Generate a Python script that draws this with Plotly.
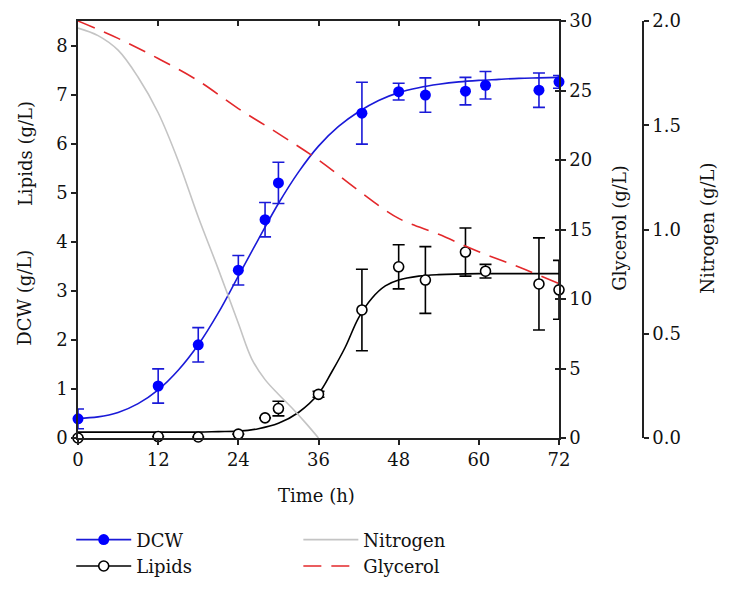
import plotly.graph_objects as go

# ---- measured data ----
t_dcw = [0, 12, 18, 24, 28, 30, 42.5, 48, 52, 58, 61, 69, 72]
dcw = [0.39, 1.06, 1.90, 3.42, 4.45, 5.20, 6.62, 7.06, 6.99, 7.07, 7.19, 7.09, 7.26]
dcw_err = [0.20, 0.35, 0.35, 0.30, 0.35, 0.42, 0.63, 0.17, 0.35, 0.28, 0.28, 0.35, 0.13]

t_lip = [0, 12, 18, 24, 28, 30, 36, 42.5, 48, 52, 58, 61, 69, 72]
lip = [0.0, 0.03, 0.02, 0.08, 0.41, 0.60, 0.89, 2.61, 3.49, 3.22, 3.79, 3.40, 3.14, 3.02]
lip_err = [0.0, 0.0, 0.0, 0.0, 0.0, 0.15, 0.06, 0.83, 0.45, 0.68, 0.49, 0.14, 0.94, 0.60]

# fitted curves
t_dcw_fit = [0, 3, 6, 9, 12, 15, 18, 21, 24, 27, 30, 33, 36, 39, 42, 45, 48, 51, 54, 57, 60, 63, 66, 69, 72]
dcw_fit = [0.40, 0.43, 0.52, 0.70, 0.98, 1.38, 1.90, 2.55, 3.30, 4.05, 4.78, 5.42, 5.95, 6.35,
           6.65, 6.88, 7.04, 7.14, 7.21, 7.26, 7.29, 7.31, 7.33, 7.34, 7.35]

t_lip_fit = [0, 6, 12, 18, 21, 24, 27, 30, 33, 36, 38, 40, 42, 44, 46, 48, 51, 54, 60, 66, 72]
lip_fit = [0.12, 0.12, 0.12, 0.12, 0.13, 0.14, 0.19, 0.30, 0.52, 0.90, 1.35, 1.85, 2.45,
           2.85, 3.10, 3.22, 3.30, 3.33, 3.35, 3.35, 3.35]

t_gly = [0, 6, 12, 18, 24, 30, 36, 42, 48, 54, 60, 66, 72]
glycerol = [30.0, 28.75, 27.3, 25.7, 23.7, 21.9, 20.0, 17.8, 15.8, 14.65, 13.4, 12.3, 11.1]

t_nit = [0, 3, 6, 9, 12, 15, 18, 21, 24, 26, 28, 30, 32, 34, 36]
nitrogen = [1.966, 1.93, 1.86, 1.73, 1.56, 1.33, 1.06, 0.81, 0.55, 0.38, 0.28, 0.21, 0.145, 0.075, 0.0]

x_ticks = [0, 12, 24, 36, 48, 60, 72]

FONT = "DejaVu Serif"
FS = 18
AX = "#222222"
BLUE = "#0000ff"
BLUE_L = "#1a1ad8"
RED = "#e3282b"
GRAY = "#c4c4c4"

fig = go.Figure()

# fits
fig.add_trace(go.Scatter(x=t_dcw_fit, y=dcw_fit, mode="lines", line=dict(color=BLUE_L, width=1.6, shape="spline"),
                         showlegend=False, hoverinfo="skip"))
fig.add_trace(go.Scatter(x=t_lip_fit, y=lip_fit, mode="lines", line=dict(color="black", width=1.6, shape="spline"),
                         showlegend=False, hoverinfo="skip"))
# glycerol / nitrogen
fig.add_trace(go.Scatter(x=t_gly, y=glycerol, mode="lines", yaxis="y2",
                         line=dict(color=RED, width=1.6, dash="18px,10px", shape="spline"),
                         showlegend=False, hoverinfo="skip"))
fig.add_trace(go.Scatter(x=t_nit, y=nitrogen, mode="lines", yaxis="y3",
                         line=dict(color=GRAY, width=1.6, shape="spline"),
                         showlegend=False, hoverinfo="skip"))
# points
fig.add_trace(go.Scatter(x=t_dcw, y=dcw, mode="markers", cliponaxis=False,
                         marker=dict(color=BLUE, size=11, line=dict(color=BLUE, width=0)),
                         error_y=dict(type="data", array=dcw_err, color=BLUE_L, thickness=1.6, width=6),
                         showlegend=False))
fig.add_trace(go.Scatter(x=t_lip, y=lip, mode="markers", cliponaxis=False,
                         marker=dict(color="white", size=10, line=dict(color="black", width=1.6)),
                         error_y=dict(type="data", array=lip_err, color="black", thickness=1.6, width=6),
                         showlegend=False))

# legend entries
fig.add_trace(go.Scatter(x=[None], y=[None], mode="lines+markers", name="DCW", legend="legend",
                         line=dict(color=BLUE_L, width=1.6), marker=dict(color=BLUE, size=11)))
fig.add_trace(go.Scatter(x=[None], y=[None], mode="lines+markers", name="Lipids", legend="legend",
                         line=dict(color="black", width=1.6),
                         marker=dict(color="white", size=10, line=dict(color="black", width=1.6))))
fig.add_trace(go.Scatter(x=[None], y=[None], mode="lines", name="Nitrogen", legend="legend2",
                         line=dict(color=GRAY, width=1.6)))
fig.add_trace(go.Scatter(x=[None], y=[None], mode="lines", name="Glycerol", legend="legend2",
                         line=dict(color=RED, width=1.6, dash="18px,10px")))
# dummy for top / inner-right tick axes
fig.add_trace(go.Scatter(x=[None], y=[None], xaxis="x2", yaxis="y4", showlegend=False, hoverinfo="skip"))

dom = 481 / 565

fig.update_layout(
    width=733, height=593,
    margin=dict(l=78, r=90, t=21, b=155, autoexpand=False),
    plot_bgcolor="white", paper_bgcolor="white",
    font=dict(family=FONT, size=FS, color="#111111"),
    xaxis=dict(domain=[0, dom], range=[0, 72], tickvals=x_ticks, ticks="outside", ticklen=5,
               tickwidth=1.5, tickcolor=AX, showline=True, linecolor=AX, linewidth=1.5,
               showgrid=False, zeroline=False),
    xaxis2=dict(overlaying="x", side="top", anchor="y", range=[0, 72], tickvals=x_ticks,
                ticks="inside", ticklen=5, tickwidth=1.5, tickcolor=AX, showticklabels=False,
                showline=True, linecolor=AX, linewidth=1.5, showgrid=False, zeroline=False),
    yaxis=dict(range=[0, 8.5], tickvals=list(range(0, 9)), ticks="outside", ticklen=5,
               tickwidth=1.5, tickcolor=AX, showline=True, linecolor=AX, linewidth=1.5,
               showgrid=False, zeroline=False),
    yaxis2=dict(overlaying="y", side="right", anchor="x", range=[0, 30], tickvals=[0, 5, 10, 15, 20, 25, 30],
                ticks="outside", ticklen=5, tickwidth=1.5, tickcolor=AX, showline=True, linecolor=AX,
                linewidth=1.5, showgrid=False, zeroline=False),
    yaxis4=dict(overlaying="y", side="right", anchor="x2", range=[0, 30], tickvals=[0, 5, 10, 15, 20, 25, 30],
                ticks="inside", ticklen=4, tickwidth=1.5, tickcolor=AX, showticklabels=False,
                showline=False, showgrid=False, zeroline=False),
    yaxis3=dict(overlaying="y", side="right", anchor="free", position=1.0, range=[0, 2.0],
                tickvals=[0, 0.5, 1.0, 1.5, 2.0], tickformat=".1f", ticks="outside", ticklen=5,
                tickwidth=1.5, tickcolor=AX, showline=True, linecolor=AX, linewidth=1.5,
                showgrid=False, zeroline=False),
    legend=dict(x=-0.012, y=-0.2, xanchor="left", yanchor="top", bgcolor="rgba(0,0,0,0)",
                font=dict(size=FS), itemwidth=55, tracegroupgap=0),
    legend2=dict(x=0.39, y=-0.2, xanchor="left", yanchor="top", bgcolor="rgba(0,0,0,0)",
                 font=dict(size=FS), itemwidth=55, tracegroupgap=0),
    annotations=[
        dict(text="Lipids (g/L)", x=-0.094, y=0.683, xref="paper", yref="paper", textangle=-90,
             xanchor="center", yanchor="middle", showarrow=False, font=dict(size=FS)),
        dict(text="DCW (g/L)", x=-0.094, y=0.336, xref="paper", yref="paper", textangle=-90,
             xanchor="center", yanchor="middle", showarrow=False, font=dict(size=FS)),
        dict(text="Glycerol (g/L)", x=0.959, y=0.504, xref="paper", yref="paper", textangle=-90,
             xanchor="center", yanchor="middle", showarrow=False, font=dict(size=FS)),
        dict(text="Nitrogen (g/L)", x=1.115, y=0.504, xref="paper", yref="paper", textangle=-90,
             xanchor="center", yanchor="middle", showarrow=False, font=dict(size=FS)),
        dict(text="Time (h)", x=0.423, y=-0.137, xref="paper", yref="paper",
             xanchor="center", yanchor="middle", showarrow=False, font=dict(size=FS)),
    ],
)

fig.write_html("out.html")
